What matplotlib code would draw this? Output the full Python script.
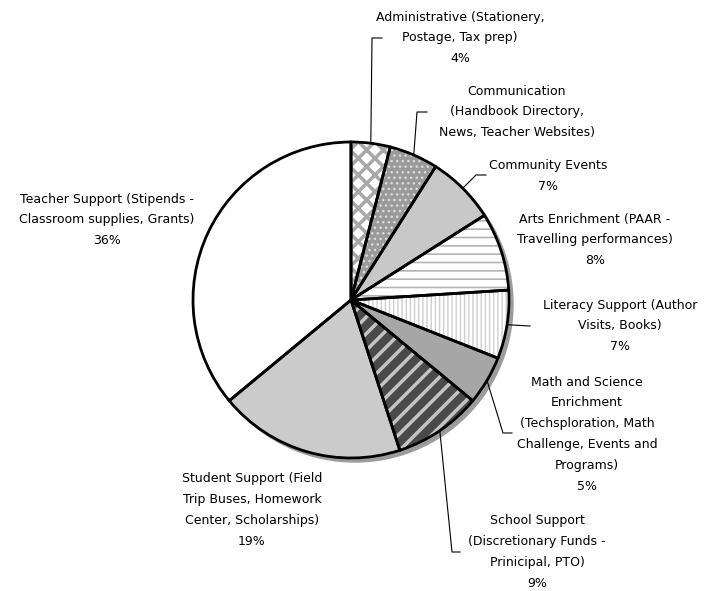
import matplotlib
matplotlib.use("Agg")
import matplotlib.pyplot as plt
from matplotlib.patches import Circle
import numpy as np

# slice data (clockwise from 12 o'clock)
labels = [
    "Administrative (Stationery,\nPostage, Tax prep)\n4%",
    "Communication\n(Handbook Directory,\nNews, Teacher Websites)",
    "Community Events\n7%",
    "Arts Enrichment (PAAR -\nTravelling performances)\n8%",
    "Literacy Support (Author\nVisits, Books)\n7%",
    "Math and Science\nEnrichment\n(Techsploration, Math\nChallenge, Events and\nPrograms)\n5%",
    "School Support\n(Discretionary Funds -\nPrinicipal, PTO)\n9%",
    "Student Support (Field\nTrip Buses, Homework\nCenter, Scholarships)\n19%",
    "Teacher Support (Stipends -\nClassroom supplies, Grants)\n36%",
]
shares = [4, 5, 7, 8, 7, 5, 9, 19, 36]

# fill styles per slice
faces = ["white", "#9a9a9a", "#c8c8c8", "white", "white", "#a6a6a6", "#4a4a4a", "#cbcbcb", "white"]
hatches = ["xx", "...", None, "--", "||||", None, "//", None, None]
hcolors = ["#a8a8a8", "#dcdcdc", "#c8c8c8", "#b4b4b4", "#cfcfcf", "#a6a6a6", "#c4c4c4", "#cbcbcb", "white"]
hwidths = [2.5, 1.0, 1.0, 1.2, 1.0, 1.0, 2.5, 1.0, 1.0]

# label layout in pixel coords (x, y from top), plus optional elbow for the leader line
label_pos = [(460, 38), (517, 112), (548, 176), (595, 240), (620, 326),
             (587, 434), (537, 552), (252, 510), (107, 220)]
elbows = [((372, 38), (382, 38)), ((417, 112), (427, 112)), ((476, 175), (486, 175)),
          None, ((530, 326), (530, 326)), ((503, 433), (512, 433)),
          ((452, 552), (460, 552)), None, None]

W, H = 705, 591
cx, cy, R = 351, H - 300, 158

fig = plt.figure(figsize=(W / 100, H / 100), dpi=100)
ax = fig.add_axes([0, 0, 1, 1])

# shadow
ax.add_patch(Circle((cx + 4, cy - 4), R, color="#9c9c9c", zorder=0))

wedges, _ = ax.pie(shares, center=(cx, cy), radius=R, startangle=90, counterclock=False,
                   colors=faces, wedgeprops=dict(linewidth=0), frame=True)
for w, h, hc, hw in zip(wedges, hatches, hcolors, hwidths):
    w.set_zorder(1)
    if h:
        w.set_hatch(h)
        w.set_edgecolor(hc)
        if hasattr(w, "set_hatch_linewidth"):
            w.set_hatch_linewidth(hw)

outl, _ = ax.pie(shares, center=(cx, cy), radius=R, startangle=90, counterclock=False,
                 wedgeprops=dict(fill=False, linewidth=2, edgecolor="black"), frame=True)
for w in outl:
    w.set_zorder(2)

ax.set_xlim(0, W)
ax.set_ylim(0, H)
ax.set_aspect("equal")
ax.axis("off")

for w, lab, (lx, ly), elb in zip(wedges, labels, label_pos, elbows):
    ax.text(lx, H - ly, lab, ha="center", va="center", multialignment="center",
            fontsize=9, linespacing=1.78, family="DejaVu Sans", color="black")
    if elb is None:
        continue
    ang = np.deg2rad((w.theta1 + w.theta2) / 2)
    px, py = cx + R * np.cos(ang), cy + R * np.sin(ang)
    xs = [px, elb[0][0], elb[1][0]]
    ys = [py, H - elb[0][1], H - elb[1][1]]
    ax.plot(xs, ys, color="black", linewidth=0.8, zorder=3)

fig.savefig("out.png", dpi=100, facecolor="white")
